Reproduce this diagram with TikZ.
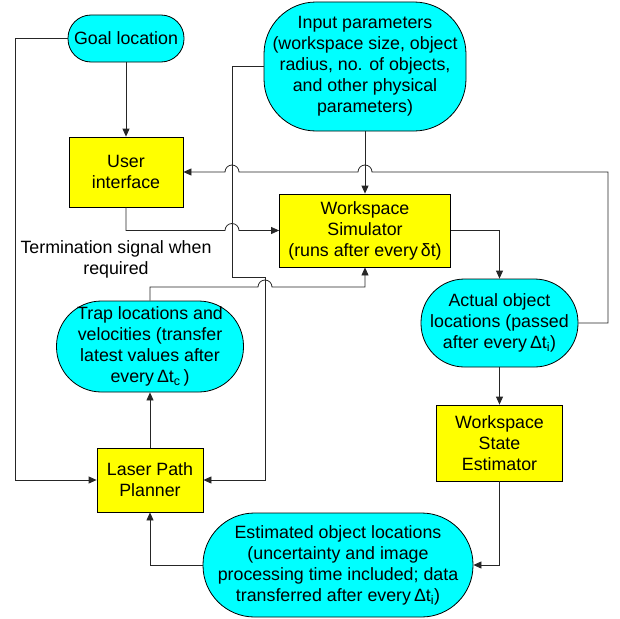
\documentclass[tikz,border=0pt]{standalone}
\usepackage{fontspec}
\setmainfont{Liberation Sans}
\usetikzlibrary{arrows.meta,calc}
\definecolor{termfill}{RGB}{0,255,255}
\definecolor{procfill}{RGB}{255,255,0}
\begin{document}
\begin{tikzpicture}[x=1pt,y=-1pt,
  txt/.style={font=\fontsize{17.8}{21}\selectfont, align=center, inner sep=0pt},
  termbox/.style={txt, draw=black, fill=termfill, line width=0.8pt},
  procbox/.style={txt, draw=black, fill=procfill, line width=0.8pt, minimum width=#1},
  arr/.style={draw=black!85, line width=0.8pt, -{Triangle[length=8pt,width=7pt]}}]
\useasboundingbox (0,0) rectangle (620,618);

% nodes
\node[termbox, minimum width=116pt, minimum height=47pt, rounded corners=23pt] (goal) at (126,38.5) {Goal location};
\node[termbox, minimum width=202pt, minimum height=129pt, rounded corners=52pt] (ip) at (365,66.5)
  {Input parameters\\(workspace size, object\\radius, no. of objects,\\and other physical\\parameters)};
\node[procbox=114pt, minimum height=70pt] (ui) at (126,172) {User\\interface};
\node[procbox=171pt, minimum height=73pt] (ws) at (365,230.5) {Workspace\\Simulator\\(runs after every\,δt)};
\node[termbox, minimum width=187pt, minimum height=91pt, rounded corners=45pt] (trap) at (150,346.5)
  {Trap locations and\\velocities (transfer\\latest values after\\every\,Δt\textsubscript{c}\,)};
\node[termbox, minimum width=157pt, minimum height=88pt, rounded corners=43.5pt] (act) at (499.5,323)
  {Actual object\\locations (passed\\after every\,Δt\textsubscript{i})};
\node[procbox=126pt, minimum height=76pt] (wse) at (499.5,443) {Workspace\\State\\Estimator};
\node[procbox=106pt, minimum height=64pt] (lpp) at (150,480) {Laser Path\\Planner};
\node[termbox, minimum width=270pt, minimum height=104pt, rounded corners=51.5pt] (est) at (338,565)
  {Estimated object locations\\(uncertainty and image\\processing time included; data\\transferred after every\,Δt\textsubscript{i})};
\node[txt] (termsig) at (116,259) {Termination signal when\\required};

% helper coordinates
\coordinate (c1) at (232,277);
\coordinate (c2) at (265,277);
\coordinate (r1) at (608,172);
\coordinate (th) at (0,287);
\coordinate (lft) at (15,480);

% connectors
\draw[arr] (goal.south) -- (ui.north);
\draw[arr] (ip.south) -- (ws.north);
\draw[arr] (goal.west) -| (lft) -- (lpp.west);
\draw[arr] (ip.west) -| (c1) -- (c2) |- (lpp.east);
\draw[arr] (act.east) -| (r1)
  -- ([xshift=7pt]ip.south |- r1) arc[start angle=0,end angle=180,radius=7pt]
  -- ([xshift=7pt]c1 |- r1) arc[start angle=0,end angle=180,radius=7pt]
  -- (ui.east);
\draw[arr] (ui.south) |- ([xshift=-7pt]c1 |- ws.west) arc[start angle=180,end angle=0,radius=7pt] -- (ws.west);
\draw[arr] (trap.north) |- ([xshift=-7pt]c2 |- th) arc[start angle=180,end angle=0,radius=7pt]
  -- (ws.south |- th) -- (ws.south);
\draw[arr] (ws.east) -| (act.north);
\draw[arr] (act.south) -- (wse.north);
\draw[arr] (wse.south) |- (est.east);
\draw[arr] (est.west) -| (lpp.south);
\draw[arr] (lpp.north) -- (trap.south);
\end{tikzpicture}
\end{document}
